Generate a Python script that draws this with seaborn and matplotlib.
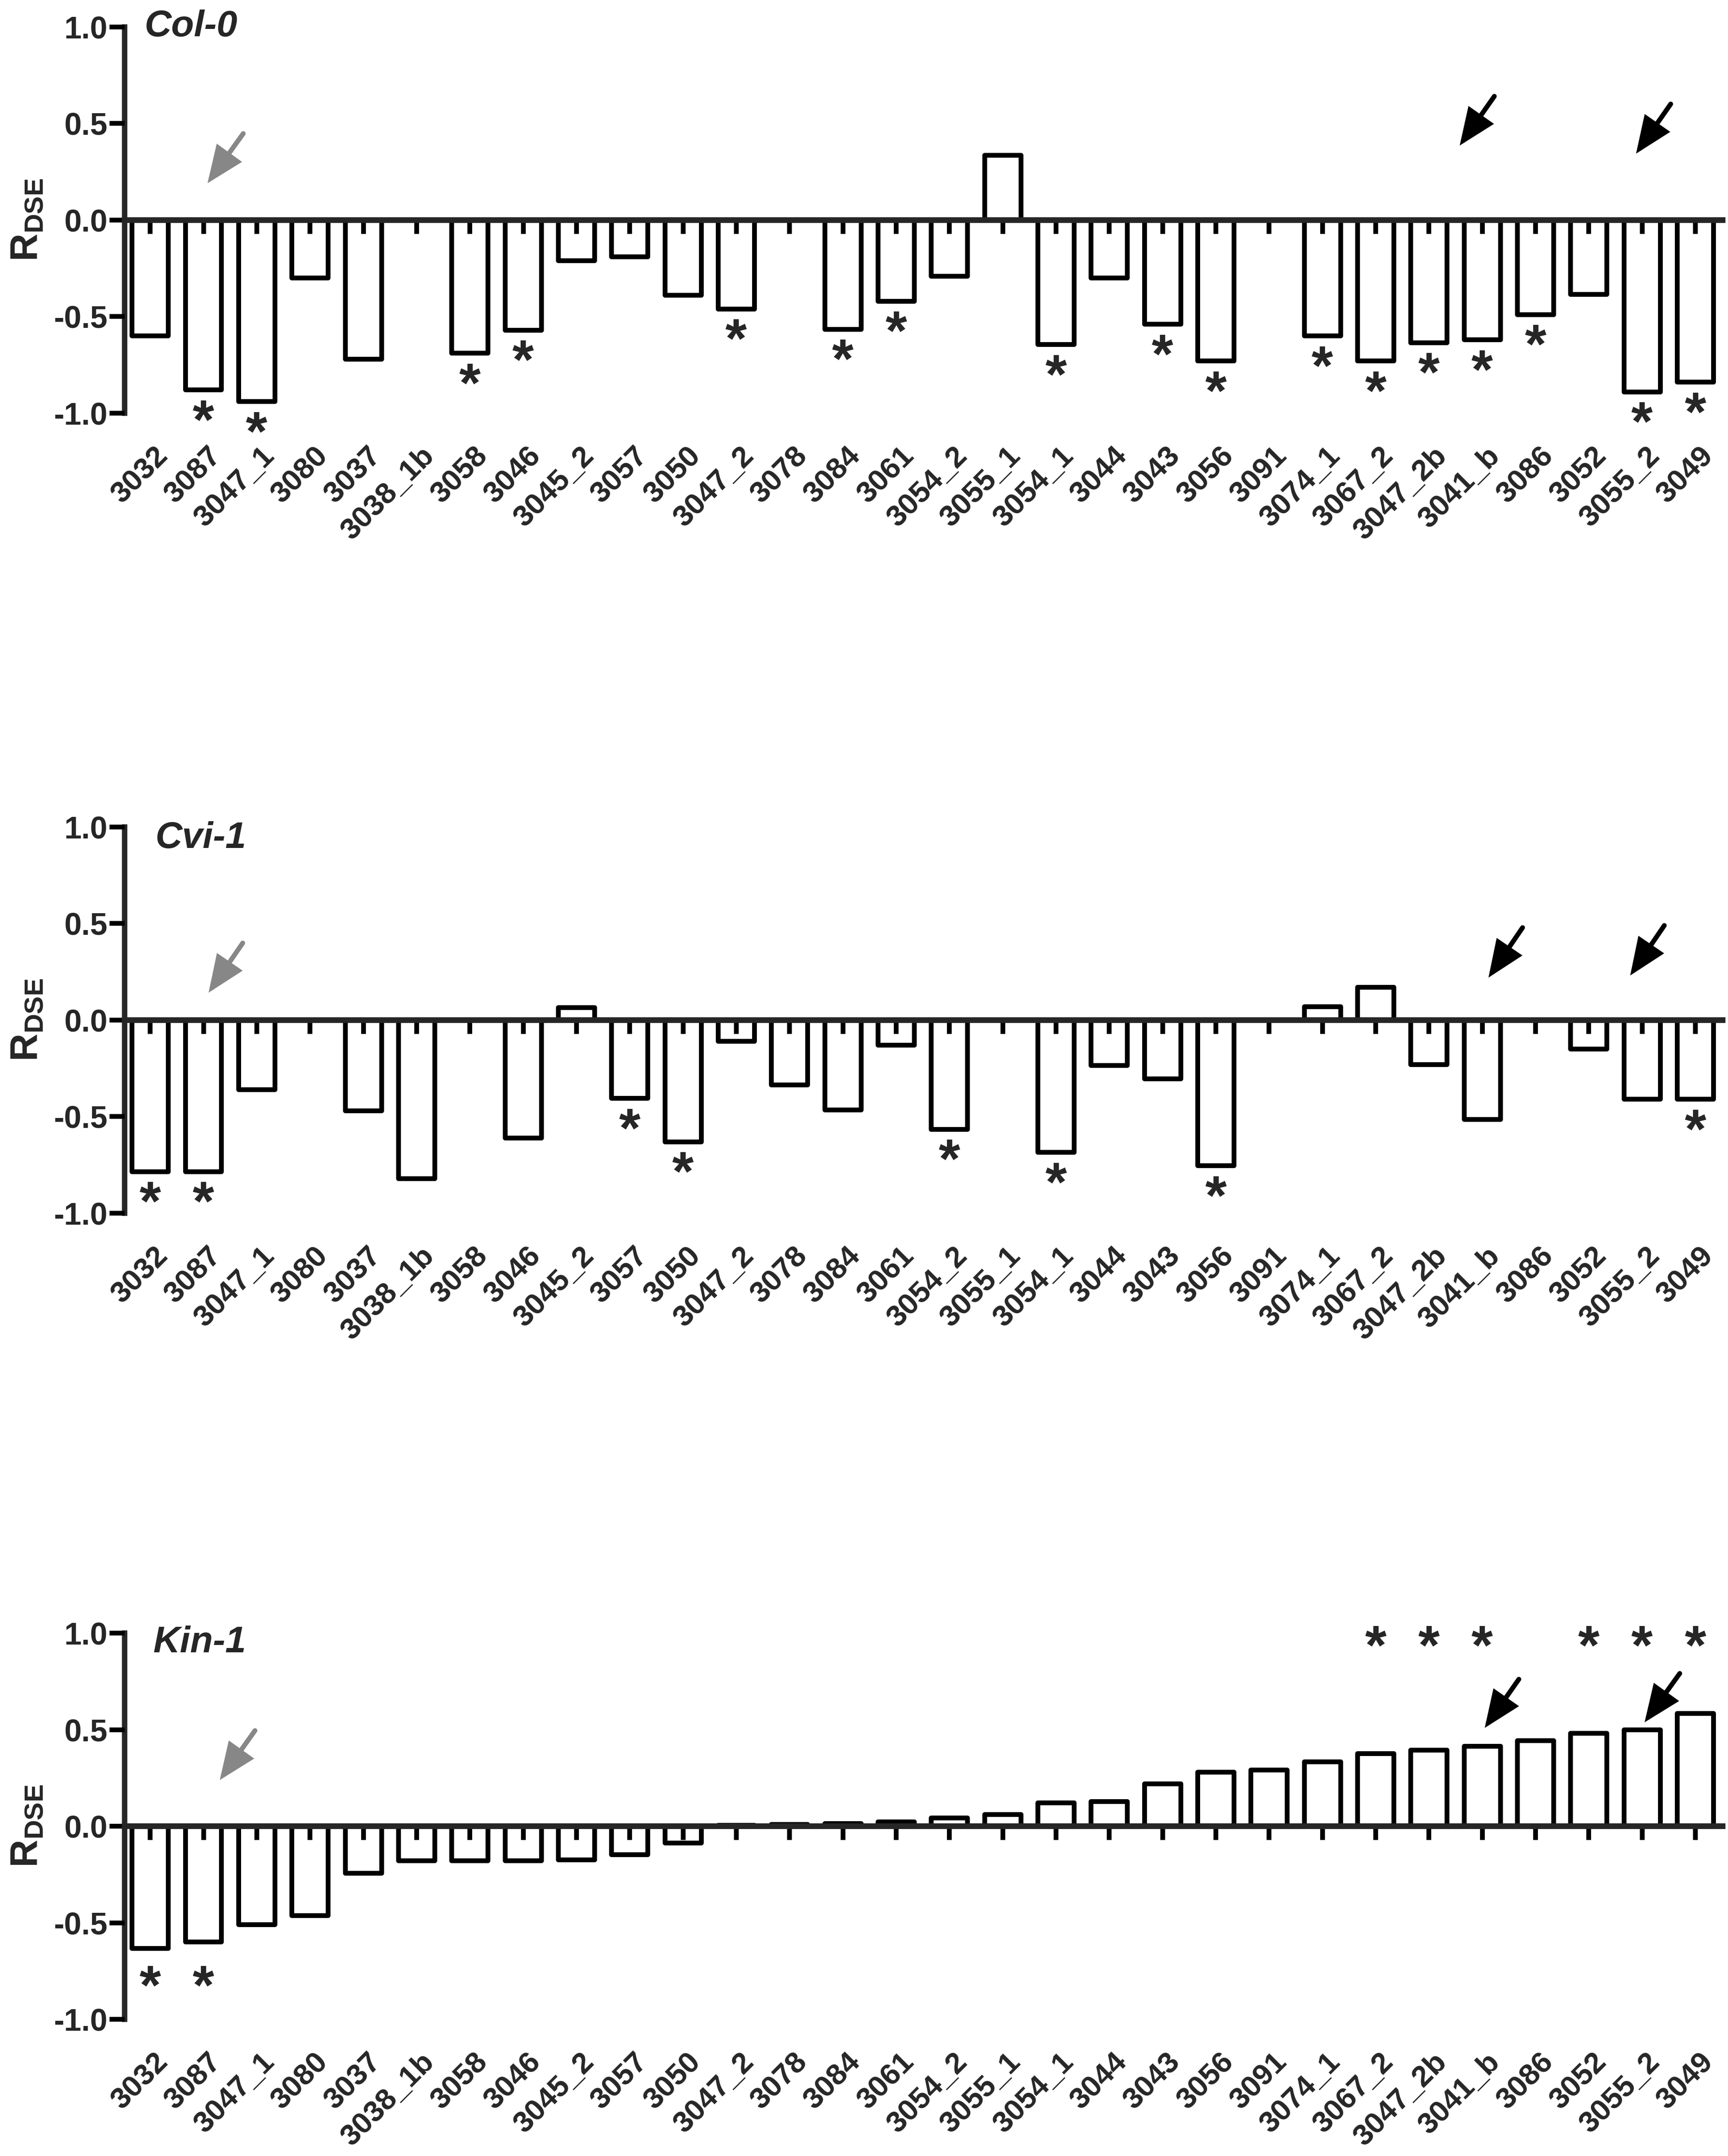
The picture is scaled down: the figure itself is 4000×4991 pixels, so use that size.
import matplotlib
matplotlib.use("Agg")
import matplotlib.pyplot as plt
import matplotlib.transforms as mtransforms
import numpy as np
import pandas as pd
import seaborn as sns

sns.set_style("ticks")
plt.rcParams['font.family'] = ['Liberation Sans', 'DejaVu Sans']
plt.rcParams['font.weight'] = 'bold'
plt.rcParams['mathtext.fontset'] = 'custom'
plt.rcParams['mathtext.rm'] = 'Liberation Sans:bold'
plt.rcParams['mathtext.bf'] = 'Liberation Sans:bold'

nan = np.nan

# lines on the x axis (same order in every panel)
lines = ["3032", "3087", "3047_1", "3080", "3037", "3038_1b", "3058", "3046", "3045_2", "3057",
         "3050", "3047_2", "3078", "3084", "3061", "3054_2", "3055_1", "3054_1", "3044", "3043",
         "3056", "3091", "3074_1", "3067_2", "3047_2b", "3041_b", "3086", "3052", "3055_2", "3049"]

# R_DSE per accession (nan = no bar)
col0 = [-0.60, -0.88, -0.94, -0.30, -0.72, nan, -0.69, -0.57, -0.21, -0.19,
        -0.39, -0.46, nan, -0.565, -0.42, -0.29, 0.335, -0.645, -0.30, -0.54,
        -0.73, nan, -0.60, -0.73, -0.635, -0.62, -0.49, -0.385, -0.89, -0.84]
cvi1 = [-0.785, -0.785, -0.36, nan, -0.47, -0.82, nan, -0.61, 0.065, -0.405,
        -0.63, -0.11, -0.335, -0.465, -0.13, -0.565, nan, -0.685, -0.235, -0.305,
        -0.755, nan, 0.07, 0.17, -0.23, -0.515, nan, -0.15, -0.41, -0.41]
kin1 = [-0.633, -0.60, -0.51, -0.462, -0.244, -0.18, -0.18, -0.178, -0.174, -0.147,
        -0.088, 0.004, 0.01, 0.013, 0.022, 0.042, 0.06, 0.12, 0.128, 0.22,
        0.28, 0.29, 0.334, 0.376, 0.394, 0.413, 0.444, 0.48, 0.50, 0.583]

# significant lines (asterisks)
col0_sig = ["3087", "3047_1", "3058", "3046", "3047_2", "3084", "3061", "3054_1", "3043",
            "3056", "3074_1", "3067_2", "3047_2b", "3041_b", "3086", "3055_2", "3049"]
cvi1_sig = ["3032", "3087", "3057", "3050", "3054_2", "3054_1", "3056", "3049"]
kin1_sig = ["3032", "3087", "3067_2", "3047_2b", "3041_b", "3052", "3055_2", "3049"]

# layout of each panel: name, data, stars, axes bottom, title pos, arrows (tail, tip)
panels = [
    dict(name="Col-0", vals=col0, sig=col0_sig, bottom=0.80846, title=(-0.10, 0.95), row=None,
         grey=((1.75, 0.447), (1.08, 0.19)),
         black=[((25.23, 0.64), (24.58, 0.385)), ((28.54, 0.60), (27.89, 0.343))]),
    dict(name="Cvi-1", vals=cvi1, sig=cvi1_sig, bottom=0.43739, title=(0.10, 0.89), row=None,
         grey=((1.74, 0.398), (1.10, 0.141)),
         black=[((25.76, 0.478), (25.12, 0.219)), ((28.42, 0.489), (27.78, 0.23))]),
    dict(name="Kin-1", vals=kin1, sig=kin1_sig, bottom=0.06351, title=(0.06, 0.90), row=(1.0, -0.76),
         grey=((1.97, 0.494), (1.31, 0.238)),
         black=[((25.69, 0.76), (25.05, 0.508)), ((28.71, 0.79), (28.05, 0.537))]),
]

fig = plt.figure(figsize=(40, 49.91), dpi=100)
star_fs = 92

for p in panels:
    ax = fig.add_axes([0.072, p["bottom"], 0.92475, 0.17912])
    df = pd.DataFrame({"line": lines, "r": p["vals"]})
    sns.barplot(data=df, x="line", y="r", order=lines, ax=ax, color="white", saturation=1,
                edgecolor="black", linewidth=8, width=0.68, errorbar=None)
    for bar in ax.patches:
        bar.set_joinstyle("round")
    ax.set_axisbelow(False)

    ax.set_xlim(-0.48, 29.51)
    ax.set_ylim(-1, 1)
    ax.set_xlabel("")
    ax.set_ylabel(r"$\mathbf{R}_{\mathbf{DSE}}$", fontsize=64)
    ax.yaxis.label.set_va("center")
    ax.yaxis.set_label_coords(-0.061, 0.5)

    for s in ["top", "right"]:
        ax.spines[s].set_visible(False)
    ax.spines["bottom"].set_position(("data", 0))
    ax.spines["bottom"].set_linewidth(9.5)
    ax.spines["left"].set_linewidth(9)
    ax.spines["bottom"].set_zorder(5)

    ax.set_yticks([-1, -0.5, 0, 0.5, 1])
    ax.set_yticklabels(["-1.0", "-0.5", "0.0", "0.5", "1.0"], fontsize=52, fontweight="bold")
    ax.tick_params(axis="y", direction="out", length=25, width=8, pad=3, color="black")
    ax.tick_params(axis="x", direction="out", length=23, width=8, color="black",
                   bottom=True, labelbottom=False)

    # x tick labels below the panel
    trans = mtransforms.blended_transform_factory(ax.transData, ax.transAxes)
    for i, lab in enumerate(lines):
        ax.text(i + 0.07, -0.075, lab, transform=trans, rotation=45, rotation_mode="anchor",
                ha="right", va="top", fontsize=50, fontweight="bold")

    # title
    ax.text(p["title"][0], p["title"][1], p["name"], fontsize=62, fontweight="bold",
            fontstyle="italic", ha="left", va="baseline")

    # asterisks
    for lab in p["sig"]:
        i = lines.index(lab)
        v = p["vals"][i]
        if p["row"] is not None:
            y = p["row"][0] if v > 0 else p["row"][1]
        else:
            y = v - 0.09
        ax.annotate("*", xy=(i, y), xytext=(0, -0.56 * star_fs), textcoords="offset points",
                    ha="center", va="baseline", fontsize=star_fs, fontweight="bold",
                    annotation_clip=False)

    # arrows
    arrows = [(p["grey"], "#878787")] + [(a, "black") for a in p["black"]]
    for (tail, tip), c in arrows:
        ax.annotate("", xy=tip, xytext=tail,
                    arrowprops=dict(arrowstyle="-|>,head_length=2.4,head_width=1.0",
                                    mutation_scale=20, color=c, lw=8, shrinkA=0, shrinkB=0,
                                    capstyle="round", joinstyle="miter"),
                    annotation_clip=False)

fig.savefig("out.png", dpi=100, facecolor="white")
